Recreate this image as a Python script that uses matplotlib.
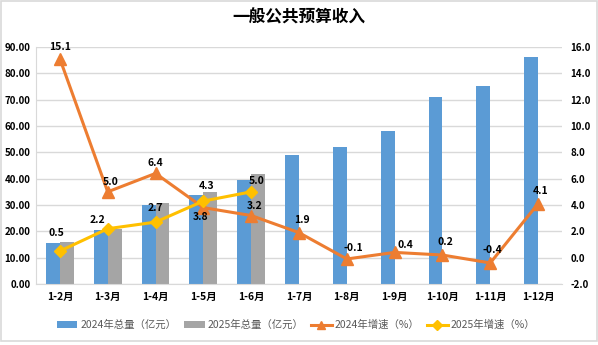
import matplotlib
matplotlib.use("Agg")
import matplotlib.pyplot as plt
import numpy as np
from matplotlib.patches import Rectangle

plt.rcParams['font.family'] = ['Noto Sans CJK SC', 'DejaVu Sans']

categories = ["1-2月", "1-3月", "1-4月", "1-5月", "1-6月", "1-7月", "1-8月", "1-9月", "1-10月", "1-11月", "1-12月"]
total_2024 = [15.7, 20.5, 30.0, 33.8, 39.5, 49.0, 52.1, 58.1, 70.9, 75.3, 86.1]
total_2025 = [16.0, 21.0, 30.8, 35.0, 41.7]
growth_2024 = [15.1, 5.0, 6.4, 3.8, 3.2, 1.9, -0.1, 0.4, 0.2, -0.4, 4.1]
growth_2025 = [0.5, 2.2, 2.7, 4.3, 5.0]

left_ticks = np.arange(0, 91, 10)
right_ticks = np.arange(-2, 17, 2)

# label offsets in pixels (dx, dy)
off_2024 = [(0, 12), (3, 10), (0, 10), (-3, -9), (3, 10), (3, 13), (6, 11), (11, 7), (3, 13), (2, 13), (2, 13)]
off_2025 = [(-3, 18), (-10, 9), (0, 14), (3, 15), (5, 11)]

fig = plt.figure(figsize=(5.98, 3.45), dpi=100)
fig.patches.append(Rectangle((0.002, 0.012), 0.996, 0.985, transform=fig.transFigure,
                             fill=False, edgecolor='#d9d9d9', linewidth=1.2))
ax = fig.add_axes([36/598, 1-284/345, (562-36)/598, (284-47)/345])
ax2 = ax.twinx()

x = np.arange(len(categories))
w = 0.29
ax.bar(x - w/2, total_2024, width=w, color='#5B9BD5', label='2024年总量（亿元）', zorder=2)
ax.bar(np.arange(len(total_2025)) + w/2, total_2025, width=w, color='#A5A5A5', label='2025年总量（亿元）', zorder=2)
ax.set_ylim(0, 90)
ax.set_yticks(left_ticks)
ax.set_yticklabels([f"{v:.2f}" for v in left_ticks], fontsize=7, fontweight='bold')
ax.set_xlim(-0.5, len(categories) - 0.5)
ax.set_xticks(x)
ax.set_xticklabels(categories, fontsize=7.5, fontweight='bold')
ax.grid(axis='y', color='#d9d9d9', linewidth=1, zorder=0)
ax.set_axisbelow(True)
ax.tick_params(length=0, pad=4)
ax.tick_params(axis='x', pad=6)
for s in ['top', 'right']:
    ax.spines[s].set_visible(False)
ax.spines['left'].set_color('#d9d9d9')
ax.spines['bottom'].set_color('#d9d9d9')

l1, = ax2.plot(x, growth_2024, color='#ED7D31', linewidth=2.2, marker='^', markersize=8,
               label='2024年增速（%）', zorder=3)
x25 = np.arange(len(growth_2025))
l2, = ax2.plot(x25, growth_2025, color='#FFC000', linewidth=2.2, marker='D', markersize=6,
               label='2025年增速（%）', zorder=4)
ax2.set_ylim(-2, 16)
ax2.set_yticks(right_ticks)
ax2.set_yticklabels([f"{v:.1f}" for v in right_ticks], fontsize=7, fontweight='bold')
ax2.tick_params(length=0, pad=6)
for s in ['top', 'right', 'left', 'bottom']:
    ax2.spines[s].set_visible(False)

for xi, v, (dx, dy) in zip(x, growth_2024, off_2024):
    ax2.annotate(f"{v:.1f}", (xi, v), xytext=(dx, dy), textcoords='offset pixels',
                 ha='center', va='center', fontsize=7.5, fontweight='bold', zorder=5)
for xi, v, (dx, dy) in zip(x25, growth_2025, off_2025):
    ax2.annotate(f"{v:.1f}", (xi, v), xytext=(dx, dy), textcoords='offset pixels',
                 ha='center', va='center', fontsize=7.5, fontweight='bold', zorder=5)

fig.text(0.5, 1-18/345, "一般公共预算收入", ha='center', va='center', fontsize=12, fontweight='bold')

h1, lab1 = ax.get_legend_handles_labels()
leg = fig.legend(h1 + [l1, l2], lab1 + [l1.get_label(), l2.get_label()],
                 loc='center', bbox_to_anchor=(0.495, 1-325/345), ncol=4, frameon=False,
                 fontsize=7.5, handlelength=2.0, columnspacing=0.7, handletextpad=0.3,
                 markerscale=0.8)
for t in leg.get_texts():
    t.set_color('#595959')

fig.savefig("out.png", dpi=100)
